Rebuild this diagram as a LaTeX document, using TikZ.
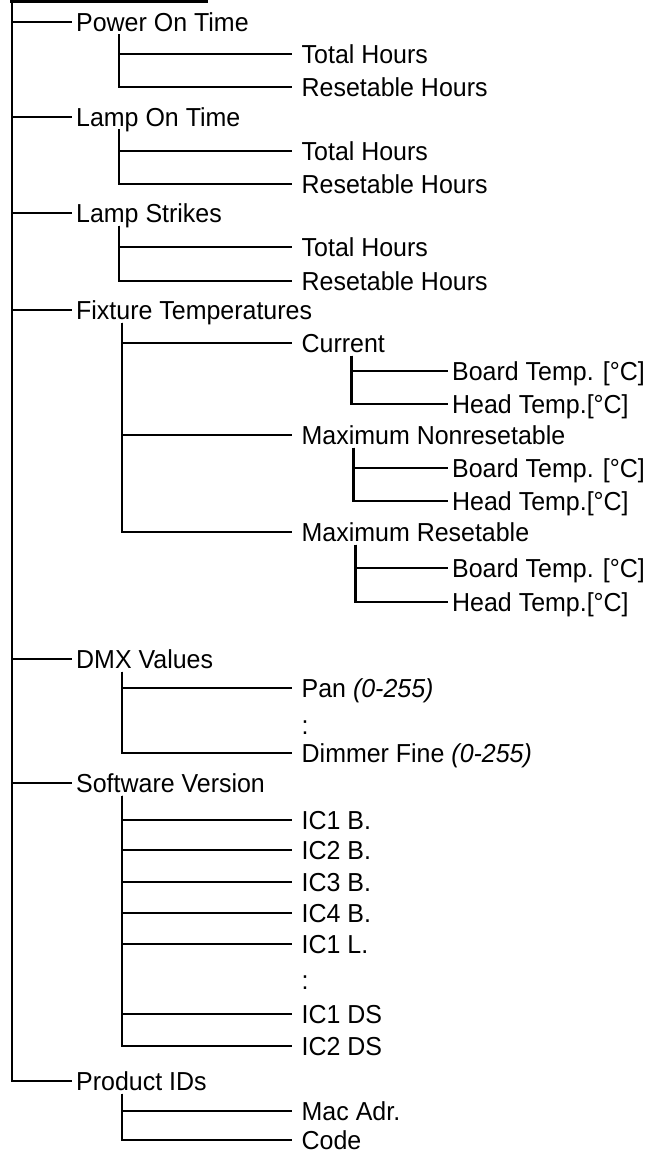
\documentclass[tikz,border=0pt]{standalone}
\usepackage{fontspec}
\setmainfont{Liberation Sans}[FakeStretch=0.96]

\begin{document}
\begin{tikzpicture}[x=1pt, y=-1pt,
  item/.style={anchor=west, inner sep=0pt, text height=18.6pt, text depth=0pt,
               font=\fontsize{26}{31}\selectfont},
  link/.style={line width=2.6pt},
]
  \useasboundingbox (0,0) rectangle (654,1153);
  \coordinate (top) at (12,0);
  \coordinate (barL) at (10,1.3);
  \coordinate (barR) at (208,1.3);

  \node[item] (pwr)  at (76,22)   {Power On Time};
  \node[item] (lamp) at (76,117)  {Lamp On Time};
  \node[item] (strk) at (76,213)  {Lamp Strikes};
  \node[item] (fix)  at (76,310)  {Fixture Temperatures};
  \node[item] (dmx)  at (76,659)  {DMX Values};
  \node[item] (sw)   at (76,783)  {Software Version};
  \node[item] (prod) at (76,1081) {Product IDs};

  \node[item] (pwrTot)  at (301.5,54)  {Total Hours};
  \node[item] (pwrRes)  at (301.5,87)  {Resetable Hours};
  \node[item] (lampTot) at (301.5,151) {Total Hours};
  \node[item] (lampRes) at (301.5,184) {Resetable Hours};
  \node[item] (strkTot) at (301.5,247) {Total Hours};
  \node[item] (strkRes) at (301.5,281) {Resetable Hours};

  \node[item] (cur)  at (301.5,343) {Current};
  \node[item] (maxN) at (301.5,435) {Maximum Nonresetable};
  \node[item] (maxR) at (301.5,532) {Maximum Resetable};
  \node[item] (curB)  at (452,371) {Board Temp. [°C]};
  \node[item] (curH)  at (452,404) {Head Temp.[°C]};
  \node[item] (maxNB) at (452,468) {Board Temp. [°C]};
  \node[item] (maxNH) at (452,501) {Head Temp.[°C]};
  \node[item] (maxRB) at (452,568) {Board Temp. [°C]};
  \node[item] (maxRH) at (452,602) {Head Temp.[°C]};

  \node[item] (pan)     at (301.5,688) {Pan \itshape(0-255)};
  \node[item] (dmxDots) at (301.5,725) {:};
  \node[item] (dim)     at (301.5,753) {Dimmer Fine \itshape(0-255)};

  \node[item] (icB1)   at (301.5,820)  {IC1 B.};
  \node[item] (icB2)   at (301.5,850)  {IC2 B.};
  \node[item] (icB3)   at (301.5,882)  {IC3 B.};
  \node[item] (icB4)   at (301.5,913)  {IC4 B.};
  \node[item] (icL1)   at (301.5,944)  {IC1 L.};
  \node[item] (swDots) at (301.5,980)  {:};
  \node[item] (icDS1)  at (301.5,1014) {IC1 DS};
  \node[item] (icDS2)  at (301.5,1046) {IC2 DS};

  \node[item] (mac)  at (301.5,1111) {Mac Adr.};
  \node[item] (code) at (301.5,1140) {Code};

  \draw[link] (barL) -- (barR);
  \draw[link, shorten >=4pt] (top) |- (prod.west);
  \foreach \n in {pwr,lamp,strk,fix,dmx,sw}
    \draw[link, shorten >=4pt] (\n.west -| top) -- (\n.west);

  \foreach \p/\dx/\gap/\kids in {pwr/43/9.5/{pwrTot,pwrRes},
      lamp/43/9.5/{lampTot,lampRes}, strk/43/9.5/{strkTot,strkRes},
      fix/46/9.5/{cur,maxN,maxR}, cur/50/4/{curB,curH},
      maxN/52/4/{maxNB,maxNH}, maxR/54/4/{maxRB,maxRH},
      dmx/46/9.5/{pan,dim}, sw/46/9.5/{icB1,icB2,icB3,icB4,icL1,icDS1,icDS2},
      prod/46/9.5/{mac,code}}
    \foreach \k in \kids
      \draw[link, shorten >=\gap pt] ([xshift=\dx pt, yshift=-3pt]\p.south west) |- (\k.west);
\end{tikzpicture}
\end{document}
